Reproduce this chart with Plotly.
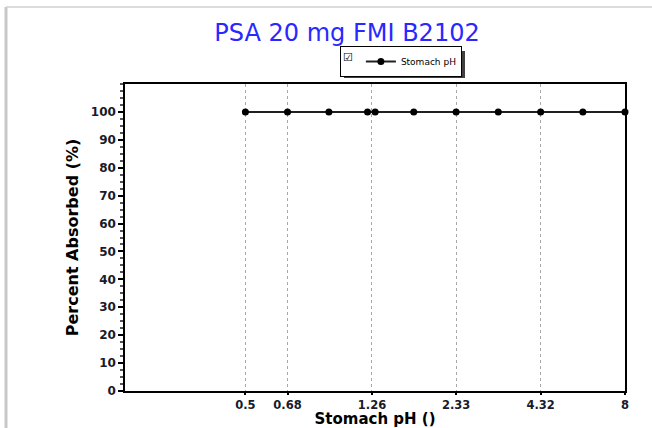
import plotly.graph_objects as go

# Data
ph_values = [0.5, 0.68, 0.92, 1.22, 1.29, 1.71, 2.33, 3.17, 4.32, 5.88, 8.0]
absorbed = [100, 100, 100, 100, 100, 100, 100, 100, 100, 100, 100]
x_ticks = [0.5, 0.68, 1.26, 2.33, 4.32, 8]
x_tick_labels = ["0.5", "0.68", "1.26", "2.33", "4.32", "8"]
y_ticks = list(range(0, 101, 10))

W, H = 652, 428
L, R, T, B = 125, 27, 84, 37
pw, ph = W - L - R, H - T - B

def px(x):
    return (x - L) / pw

def py(y):
    return (H - B - y) / ph

fig = go.Figure()
fig.add_trace(go.Scatter(
    x=ph_values, y=absorbed, mode="lines+markers", name="Stomach pH",
    line=dict(color="#202020", width=2),
    marker=dict(color="black", size=7, symbol="circle"),
    cliponaxis=False,
))

ytick_font = dict(family="DejaVu Sans", size=12, color="#1a1a2a", weight="bold")
xtick_font = dict(family="DejaVu Sans", size=11.5, color="#1a1a2a", weight="bold")
fig.update_layout(
    width=W, height=H,
    margin=dict(l=L, r=R, t=T, b=B, autoexpand=False),
    paper_bgcolor="white", plot_bgcolor="white",
    title=dict(text="PSA 20 mg FMI B2102", x=px(347), xref="paper", xanchor="center",
               y=1 - 33 / H, yanchor="middle",
               font=dict(family="DejaVu Sans", size=24, color="#2828ff")),
    showlegend=True,
    legend=dict(x=px(401), y=py(61.5), xanchor="center", yanchor="middle",
                bgcolor="white", bordercolor="black", borderwidth=1,
                font=dict(family="DejaVu Sans", size=9, color="black"),
                title=dict(text="☑", side="left", font=dict(size=11, color="black")),
                itemwidth=30),
    xaxis=dict(type="log", range=[-0.683, 0.9031], automargin=False,
               tickmode="array", tickvals=x_ticks, ticktext=x_tick_labels,
               showgrid=True, gridcolor="#a8a8a8", griddash="dot", gridwidth=1,
               showline=True, linecolor="black", linewidth=1.5, mirror=True,
               ticks="outside", ticklen=2, tickcolor="black", tickwidth=2,
               tickfont=xtick_font, zeroline=False,
               title=dict(text="Stomach pH ()", standoff=3,
                          font=dict(family="DejaVu Sans", size=15, color="black", weight="bold"))),
    yaxis=dict(range=[0, 110], tickmode="array", tickvals=y_ticks, automargin=False,
               showgrid=False, zeroline=False,
               showline=True, linecolor="black", linewidth=1.5, mirror=True,
               ticks="outside", ticklen=5, tickcolor="black", tickwidth=1.5,
               tickfont=ytick_font,
               minor=dict(ticks="outside", ticklen=3, dtick=2.5, tickcolor="#555"),
               title=dict(text="Percent Absorbed (%)", standoff=8,
                          font=dict(family="DejaVu Sans", size=16, color="black", weight="bold"))),
)

# legend drop shadow
fig.add_shape(type="rect", xref="paper", yref="paper", x0=px(344), x1=px(465), y0=py(78), y1=py(51),
              line=dict(width=0), fillcolor="#404040", layer="above")

# outer grey frame (left and top edges)
fig.add_shape(type="line", xref="paper", yref="paper", x0=px(6), x1=px(6), y0=py(7), y1=py(H + 5),
              line=dict(color="#c8c8c8", width=3))
fig.add_shape(type="line", xref="paper", yref="paper", x0=px(6), x1=px(W + 5), y0=py(7), y1=py(7),
              line=dict(color="#d0d0d0", width=1.5))

fig.write_html("out.html")
